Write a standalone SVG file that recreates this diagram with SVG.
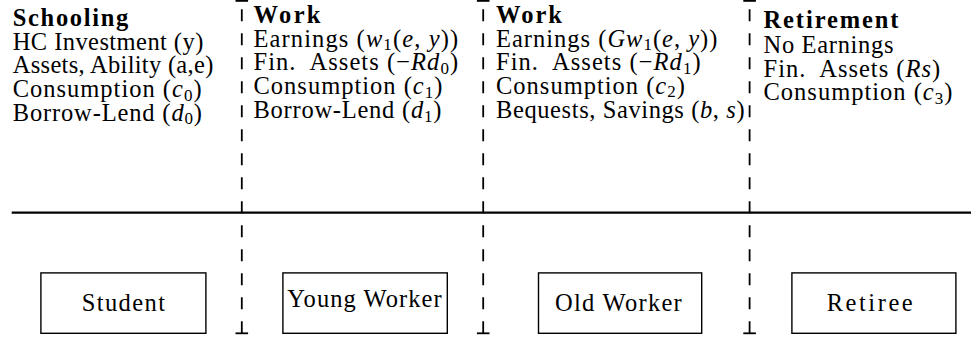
<svg xmlns="http://www.w3.org/2000/svg" width="971" height="338" viewBox="0 0 971 338">
<style>
.b{font-weight:bold}
.m{font-style:italic}
.s{font-size:17px}
.box{fill:#fff;stroke:#000;stroke-width:1.4}
.dash{stroke:#000;stroke-width:1.8;stroke-dasharray:12 12;fill:none}
.tick{stroke:#000;stroke-width:1.8}
.axis{stroke:#000;stroke-width:2.4}
</style>
<rect width="971" height="338" fill="#fff"/>
<g id="connectors">
  <line class="axis" x1="11.7" y1="212.6" x2="971" y2="212.6"/>
  <path class="dash" d="M241.8 333.3 V0"/>
  <path class="dash" d="M483.2 333.3 V0"/>
  <path class="dash" d="M749.6 333.3 V0"/>
  <line class="tick" x1="235.5" y1="0.9" x2="248.1" y2="0.9"/>
  <line class="tick" x1="235.5" y1="333.3" x2="248.1" y2="333.3"/>
  <line class="tick" x1="476.9" y1="0.9" x2="489.5" y2="0.9"/>
  <line class="tick" x1="476.9" y1="333.3" x2="489.5" y2="333.3"/>
  <line class="tick" x1="743.3" y1="0.9" x2="755.9" y2="0.9"/>
  <line class="tick" x1="743.3" y1="333.3" x2="755.9" y2="333.3"/>
</g>
<g font-family="Liberation Serif" font-size="24.5" fill="#000">
<g id="col-schooling">
  <text class="b" x="12.7" y="26" textLength="115.6">Schooling</text>
  <text x="12.7" y="49.5" textLength="190.6">HC Investment (y)</text>
  <text x="12.7" y="73.2" textLength="200.6">Assets, Ability (a,e)</text>
  <text x="12.7" y="97" letter-spacing="1">Consumption (<tspan class="m">c</tspan><tspan class="s" dy="3.5">0</tspan><tspan dy="-3.5">)</tspan></text>
  <text x="12.7" y="120.6" letter-spacing="0.85">Borrow-Lend (<tspan class="m">d</tspan><tspan class="s" dy="3.5">0</tspan><tspan dy="-3.5">)</tspan></text>
</g>
<g id="col-work-young">
  <text class="b" x="253.5" y="23" textLength="67">Work</text>
  <text x="253.5" y="46.7" letter-spacing="1.1">Earnings (<tspan class="m">w</tspan><tspan class="s" dy="3.5">1</tspan><tspan dy="-3.5">(</tspan><tspan class="m">e</tspan>, <tspan class="m">y</tspan>))</text>
  <text x="253.5" y="70.4" letter-spacing="1.05">Fin.&#160; Assets (−<tspan class="m">Rd</tspan><tspan class="s" dy="3.5">0</tspan><tspan dy="-3.5">)</tspan></text>
  <text x="253.5" y="94.4" letter-spacing="1">Consumption (<tspan class="m">c</tspan><tspan class="s" dy="3.5">1</tspan><tspan dy="-3.5">)</tspan></text>
  <text x="253.5" y="118.2" letter-spacing="0.75">Borrow-Lend (<tspan class="m">d</tspan><tspan class="s" dy="3.5">1</tspan><tspan dy="-3.5">)</tspan></text>
</g>
<g id="col-work-old">
  <text class="b" x="496" y="23" textLength="66">Work</text>
  <text x="496" y="46.7" letter-spacing="1">Earnings (<tspan class="m">Gw</tspan><tspan class="s" dy="3.5">1</tspan><tspan dy="-3.5">(</tspan><tspan class="m">e</tspan>, <tspan class="m">y</tspan>))</text>
  <text x="496" y="70.4" letter-spacing="1.05">Fin.&#160; Assets (−<tspan class="m">Rd</tspan><tspan class="s" dy="3.5">1</tspan><tspan dy="-3.5">)</tspan></text>
  <text x="496" y="94.4" letter-spacing="1">Consumption (<tspan class="m">c</tspan><tspan class="s" dy="3">2</tspan><tspan dy="-3">)</tspan></text>
  <text x="496" y="118.2" letter-spacing="0.6">Bequests, Savings (<tspan class="m">b</tspan>, <tspan class="m">s</tspan>)</text>
</g>
<g id="col-retirement">
  <text class="b" x="763.5" y="27.8" textLength="135">Retirement</text>
  <text x="763.5" y="52.8" textLength="130">No Earnings</text>
  <text x="763.5" y="76.8" letter-spacing="1">Fin.&#160; Assets (<tspan class="m">Rs</tspan>)</text>
  <text x="763.5" y="100.3" letter-spacing="1">Consumption (<tspan class="m">c</tspan><tspan class="s" dy="3.5">3</tspan><tspan dy="-3.5">)</tspan></text>
</g>
<g id="node-student">
  <rect class="box" x="40.9" y="272.9" width="165" height="60.4"/>
  <text x="81.7" y="310.6" textLength="83.3">Student</text>
</g>
<g id="node-young-worker">
  <rect class="box" x="282.9" y="272.9" width="164.4" height="60.4"/>
  <text x="287.3" y="306.6" textLength="154.4">Young Worker</text>
</g>
<g id="node-old-worker">
  <rect class="box" x="538.5" y="272.9" width="163.2" height="60.4"/>
  <text x="555" y="310.6" textLength="126.7">Old Worker</text>
</g>
<g id="node-retiree">
  <rect class="box" x="791.9" y="272.9" width="164" height="60.4"/>
  <text x="826.7" y="310.6" textLength="86">Retiree</text>
</g>
</g>
</svg>
